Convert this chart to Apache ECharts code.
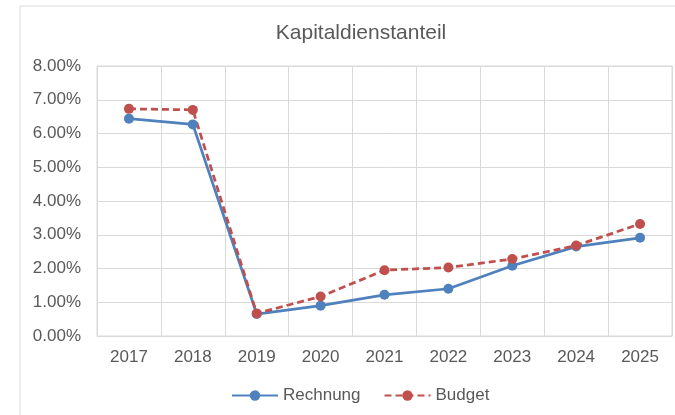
<!DOCTYPE html>
<html>
<head>
<meta charset="utf-8">
<script src="https://cdn.jsdelivr.net/npm/echarts@6/dist/echarts.min.js"></script>
<style>
  html, body { margin: 0; padding: 0; background: #fff; }
  #main { width: 675px; height: 415px; }
</style>
</head>
<body>
<div id="main"></div>
<script>
// values, in percent
const years = ['2017', '2018', '2019', '2020', '2021', '2022', '2023', '2024', '2025'];
const rechnung = [6.44, 6.27, 0.65, 0.90, 1.22, 1.40, 2.08, 2.65, 2.91];
const budget = [6.73, 6.70, 0.67, 1.17, 1.95, 2.03, 2.28, 2.68, 3.32];

const chart = echarts.init(document.getElementById('main'));
const font = 'Liberation Sans, Arial, sans-serif';
const grey = '#595959';
const gridColor = '#d9d9d9';

const option = {
  animation: false,
  textStyle: { fontFamily: font },
  title: {
    text: 'Kapitaldienstanteil',
    left: 356,
    top: 18,
    textAlign: 'center',
    textStyle: { fontFamily: font, fontSize: 21, fontWeight: 'normal', color: grey }
  },
  graphic: [{
    type: 'rect',
    shape: { x: 20, y: 6, width: 700, height: 430 },
    style: { fill: 'none', stroke: gridColor, lineWidth: 1 },
    silent: true
  }],
  legend: {
    left: 226,
    top: 382,
    itemWidth: 46,
    itemHeight: 13,
    itemGap: 23,
    textStyle: { fontFamily: font, fontSize: 17, color: grey },
    data: ['Rechnung', 'Budget']
  },
  grid: {
    left: 97, right: 3, top: 66, bottom: 79,
    show: true, borderColor: gridColor, borderWidth: 1
  },
  xAxis: {
    type: 'category',
    data: years,
    boundaryGap: true,
    axisLine: { lineStyle: { color: gridColor } },
    axisTick: { show: false },
    splitLine: { show: true, lineStyle: { color: gridColor, width: 1 } },
    axisLabel: { color: grey, fontSize: 17, margin: 13 }
  },
  yAxis: {
    type: 'value',
    min: 0, max: 8, interval: 1,
    axisLine: { show: true, lineStyle: { color: gridColor } },
    axisTick: { show: false },
    splitLine: { lineStyle: { color: gridColor, width: 1 } },
    axisLabel: { color: grey, fontSize: 17, margin: 16, formatter: v => v.toFixed(2) + '%' }
  },
  series: [
    {
      name: 'Rechnung',
      type: 'line',
      data: rechnung,
      symbol: 'circle',
      symbolSize: 10,
      itemStyle: { color: '#4F81BD' },
      lineStyle: { color: '#4F81BD', width: 2.75 }
    },
    {
      name: 'Budget',
      type: 'line',
      data: budget,
      symbol: 'circle',
      symbolSize: 10,
      itemStyle: { color: '#C0504D' },
      lineStyle: { color: '#C0504D', width: 2.75, type: [7, 4] }
    }
  ]
};

chart.setOption(option);
</script>
</body>
</html>
